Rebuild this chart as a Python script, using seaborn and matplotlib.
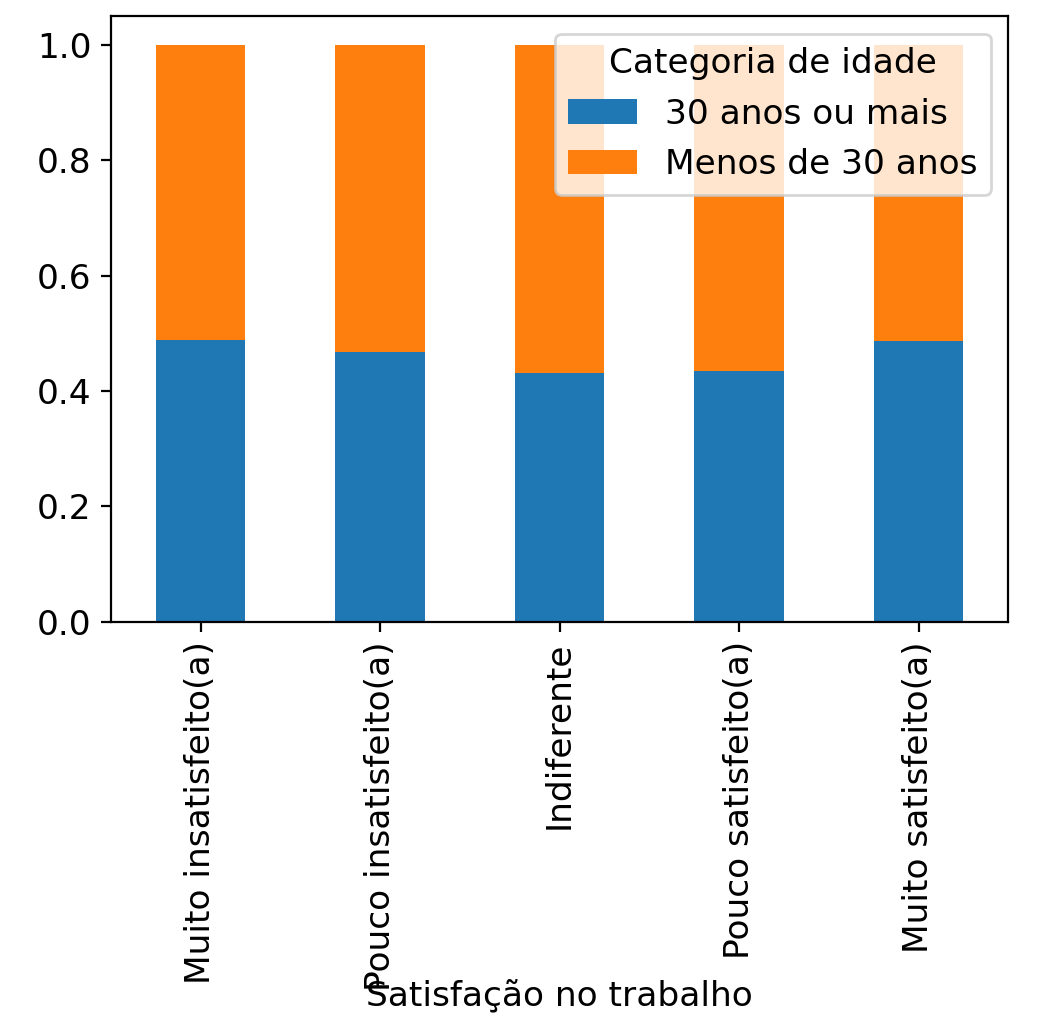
import pandas as pd
import matplotlib.pyplot as plt
import seaborn as sns

# proportions
categorias = ["Muito insatisfeito(a)", "Pouco insatisfeito(a)", "Indiferente",
              "Pouco satisfeito(a)", "Muito satisfeito(a)"]
mais_30 = [0.489, 0.467, 0.431, 0.434, 0.487]
menos_30 = [1 - v for v in mais_30]

df = pd.DataFrame({"satisfacao": categorias, "mais_30": mais_30, "menos_30": menos_30})
df["total"] = df["mais_30"] + df["menos_30"]

plt.rcParams["font.size"] = 12.4
fig, ax = plt.subplots(figsize=(5.23, 5.12), dpi=200)
fig.subplots_adjust(left=0.106, right=0.964, top=0.984, bottom=0.393)

sns.barplot(data=df, x="satisfacao", y="total", color="#ff7f0e", saturation=1,
            width=0.5, ax=ax, label="Menos de 30 anos")
sns.barplot(data=df, x="satisfacao", y="mais_30", color="#1f77b4", saturation=1,
            width=0.5, ax=ax, label="30 anos ou mais")

ax.set_xlim(-0.5, 4.5)
ax.set_xlabel("Satisfação no trabalho")
ax.xaxis.set_label_coords(0.5, -0.59)
ax.set_ylabel("")
ax.tick_params(axis="x", labelrotation=90)

handles, labels = ax.get_legend_handles_labels()
ax.legend(handles[::-1], labels[::-1], title="Categoria de idade", loc="upper right")

fig.savefig("out.png")
